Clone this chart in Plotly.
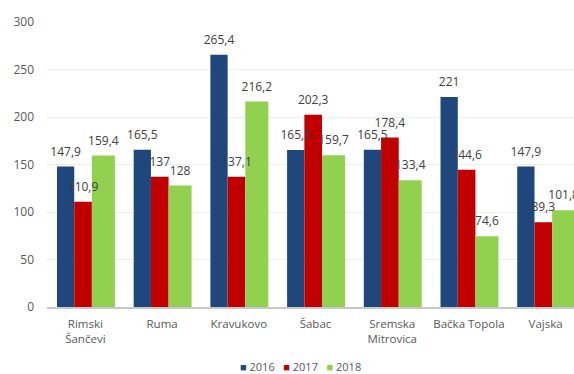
import plotly.graph_objects as go

# Locations and yearly values
locations = ["Rimski<br>Šančevi", "Ruma", "Kravukovo", "Šabac",
             "Sremska<br>Mitrovica", "Bačka Topola", "Vajska"]
years = ["2016", "2017", "2018"]
values_2016 = [147.9, 165.5, 265.4, 165.3, 165.5, 221, 147.9]
values_2017 = [110.9, 137, 137.1, 202.3, 178.4, 144.6, 89.3]
values_2018 = [159.4, 128, 216.2, 159.7, 133.4, 74.6, 101.8]
y_ticks = [0, 50, 100, 150, 200, 250, 300]

series = [values_2016, values_2017, values_2018]
colors = ["#1F477C", "#C00000", "#92D050"]
# bar offset and width within each category slot
offsets = [-0.37, -0.145, 0.085]
widths = [0.225, 0.23, 0.30]

x_idx = list(range(len(locations)))
font_family = "Open Sans, Noto Sans, sans-serif"


def fmt(v):
    return f"{v:g}".replace(".", ",")


fig = go.Figure()

for name, vals, col, off, w in zip(years, series, colors, offsets, widths):
    fig.add_trace(go.Bar(
        x=x_idx, y=vals, name=name,
        offset=off, width=w,
        marker=dict(color=col, line=dict(width=0)),
        showlegend=False,
    ))

# value labels drawn on top of all bars; the transparent marker sets the gap
for vals, off, w in zip(series, offsets, widths):
    fig.add_trace(go.Scatter(
        x=[i + off + w / 2 for i in x_idx], y=vals,
        mode="markers+text", text=[fmt(v) for v in vals],
        marker=dict(size=11, color="rgba(0,0,0,0)"),
        textposition="top center",
        textfont=dict(family=font_family, size=12, color="#404040"),
        showlegend=False, hoverinfo="skip",
    ))

legend_text = "   ".join(
    f"<span style='color:{c}'>■</span> {y}" for y, c in zip(years, colors)
)

fig.update_layout(
    width=574, height=374,
    margin=dict(l=47, r=0, t=22, b=67),
    paper_bgcolor="white", plot_bgcolor="white",
    barmode="overlay",
    font=dict(family=font_family, color="#595959"),
    xaxis=dict(
        range=[-0.5, 6.37],
        tickvals=x_idx, ticktext=locations,
        tickfont=dict(size=11.5, color="#595959"),
        showgrid=False, zeroline=False,
        showline=True, linecolor="#c8c8c8", linewidth=1.5,
        ticks="", ticklabelstandoff=5,
    ),
    yaxis=dict(
        range=[0, 300],
        tickvals=y_ticks,
        tickfont=dict(size=12, color="#595959"),
        showgrid=True, gridcolor="#eeeeee", gridwidth=1,
        zeroline=False, showline=False, ticks="",
        ticklabelstandoff=12,
    ),
    annotations=[dict(
        xref="paper", yref="paper", xanchor="center", yanchor="middle",
        x=(300 - 47) / (574 - 47), y=-(366 - 307) / (307 - 22),
        text=legend_text, showarrow=False,
        font=dict(family=font_family, size=11, color="#595959"),
    )],
)

fig.write_html("out.html")
